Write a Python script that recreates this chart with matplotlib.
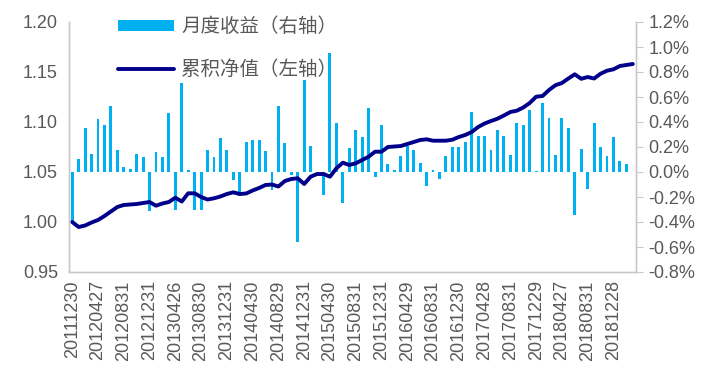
import matplotlib
matplotlib.use("Agg")
import matplotlib.pyplot as plt
from matplotlib.ticker import FuncFormatter, MultipleLocator
import numpy as np

plt.rcParams['font.family'] = ['Liberation Sans', 'Noto Sans CJK SC', 'DejaVu Sans']

# Monthly return (%), right axis — one per month starting 2011-12
monthly_ret = [
    -0.405, 0.107, 0.349, 0.141, 0.427, 0.373, 0.525, 0.173, 0.037, 0.021,
    0.141, 0.117, -0.31, 0.16, 0.123, 0.475, -0.30, 0.715, 0.013, -0.30,
    -0.30, 0.173, 0.123, 0.275, 0.179, -0.067, -0.19, 0.237, 0.257, 0.257,
    0.165, -0.142, 0.53, 0.23, -0.02, -0.557, 0.736, 0.211, 0.004, -0.184,
    0.949, 0.389, -0.245, 0.195, 0.336, 0.283, 0.515, -0.037, 0.373, 0.061,
    0.018, 0.132, 0.207, 0.178, 0.072, -0.115, 0.016, -0.056, 0.13, 0.20,
    0.20, 0.242, 0.48, 0.285, 0.285, 0.178, 0.333, 0.285, 0.138, 0.395,
    0.373, 0.496, 0.005, 0.549, 0.435, 0.136, 0.435, 0.349, -0.344, 0.184,
    -0.139, 0.395, 0.197, 0.131, 0.277, 0.091, 0.064,
]

# Cumulative NAV, left axis
cum_nav = [
    1.000, 0.995, 0.9965, 0.9995, 1.002, 1.006, 1.0105, 1.015, 1.017, 1.0175,
    1.018, 1.019, 1.020, 1.0163, 1.0185, 1.020, 1.0243, 1.0205, 1.0287, 1.0287,
    1.025, 1.0225, 1.0237, 1.0255, 1.028, 1.0297, 1.028, 1.0285, 1.0315, 1.034,
    1.037, 1.0375, 1.0355, 1.041, 1.043, 1.0437, 1.038, 1.0453, 1.048, 1.048,
    1.0453, 1.0537, 1.0593, 1.057, 1.0587, 1.062, 1.0653, 1.0703, 1.0703, 1.075,
    1.0755, 1.076, 1.078, 1.080, 1.082, 1.0827, 1.0813, 1.0813, 1.0813, 1.0823,
    1.085, 1.087, 1.090, 1.095, 1.0985, 1.101, 1.1033, 1.1065, 1.110, 1.1113,
    1.1145, 1.119, 1.1253, 1.126, 1.132, 1.1368, 1.139, 1.1435, 1.1477, 1.1432,
    1.145, 1.1435, 1.1483, 1.1513, 1.1527, 1.156, 1.157, 1.158,
]

tick_labels = [
    "20111230", "20120427", "20120831", "20121231", "20130426", "20130830",
    "20131231", "20140430", "20140829", "20141231", "20150430", "20150831",
    "20151231", "20160429", "20160831", "20161230", "20170428", "20170831",
    "20171229", "20180427", "20180831", "20181228",
]

bar_label = "月度收益（右轴）"
line_label = "累积净值（左轴）"

BAR_C = "#00B0F0"
LINE_C = "#00008B"
TXT_C = "#595959"
SPINE_C = "#C8C8C8"

fig = plt.figure(figsize=(7.14, 3.87), dpi=100)
ax = fig.add_axes([69/714, 1-272/387, (636-69)/714, 250/387])
ax2 = ax.twinx()

x_bar = np.arange(len(monthly_ret))
x_line = np.arange(len(cum_nav))

bars = ax2.bar(x_bar, monthly_ret, width=0.45, color=BAR_C, label=bar_label)
line, = ax.plot(x_line, cum_nav, color=LINE_C, lw=2.8, label=line_label,
                solid_capstyle='round', solid_joinstyle='round')

ax.set_zorder(ax2.get_zorder() + 1)
ax.patch.set_visible(False)

ax.set_xlim(-0.5, len(cum_nav) - 0.5)
ax.set_ylim(0.95, 1.20)
ax.yaxis.set_major_locator(MultipleLocator(0.05))
ax.yaxis.set_major_formatter(FuncFormatter(lambda v, p: f"{v:.2f}"))
ax2.set_ylim(-0.8, 1.2)
ax2.yaxis.set_major_locator(MultipleLocator(0.2))
ax2.yaxis.set_major_formatter(FuncFormatter(lambda v, p: f"{v:.1f}%"))

ax.set_xticks(np.arange(0, len(cum_nav), 4)[:len(tick_labels)])
ax.set_xticklabels(tick_labels, rotation=90)

for a in (ax, ax2):
    for s in a.spines.values():
        s.set_color(SPINE_C)
        s.set_linewidth(1.0)
    a.spines['top'].set_visible(False)

ax.tick_params(axis='y', length=0, labelsize=13, labelcolor=TXT_C, pad=8)
ax.tick_params(axis='x', length=0, labelsize=13, labelcolor=TXT_C, pad=6)
ax2.tick_params(axis='y', length=5, color=SPINE_C, labelsize=13, labelcolor=TXT_C, pad=4)

leg = ax.legend([bars, line], [bar_label, line_label],
                loc='upper left', bbox_to_anchor=(118/714, 1-16/387),
                bbox_transform=fig.transFigure, frameon=False,
                fontsize=14, handlelength=2.9, handleheight=0.5,
                handletextpad=0.35, labelspacing=1.15, borderpad=0, borderaxespad=0)
for t in leg.get_texts():
    t.set_color(TXT_C)
    t.set_family(['Noto Sans CJK SC', 'DejaVu Sans'])

fig.savefig("out.png", dpi=100)
